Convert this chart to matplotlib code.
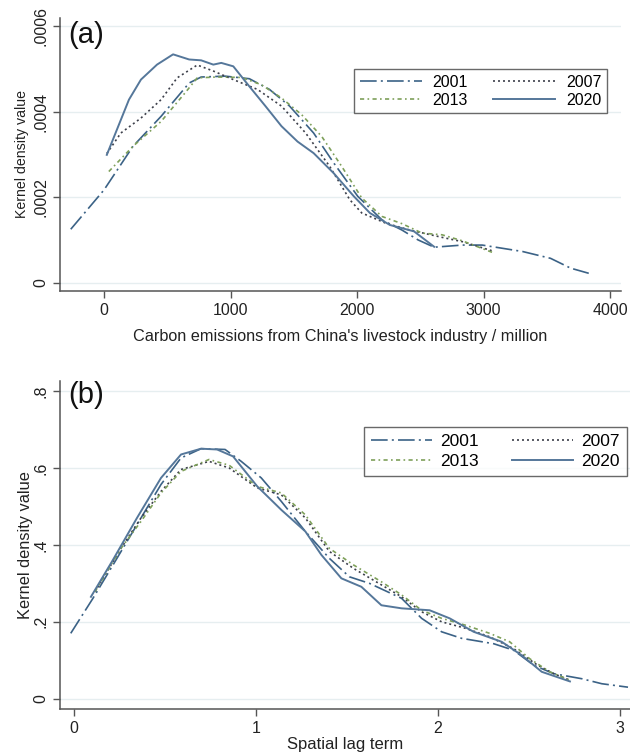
import matplotlib
matplotlib.use("Agg")
import matplotlib.pyplot as plt
from matplotlib.ticker import FuncFormatter

plt.rcParams['font.family'] = ['Liberation Sans', 'DejaVu Sans']

years = ["2001", "2007", "2013", "2020"]

# ---- Panel (a): carbon emissions ----
a2001_x = [-263, 0, 229, 451, 673, 768, 959, 1149, 1308, 1467, 1657, 1816, 2006, 2197, 2356, 2483, 2610, 2832, 2990, 3308, 3530, 3689, 3832]
a2001_y = [0.000125, 0.000217, 0.000319, 0.000389, 0.000467, 0.000481, 0.000483, 0.000477, 0.000452, 0.000413, 0.000350, 0.000280, 0.000202, 0.000147, 0.000123, 0.000100, 0.000083, 0.000088, 0.000088, 0.000073, 0.000057, 0.000034, 0.000022]
a2007_x = [22, 133, 292, 451, 578, 737, 864, 1022, 1213, 1403, 1594, 1784, 1943, 2038, 2229, 2419, 2673, 2832, 3086]
a2007_y = [0.000302, 0.000350, 0.000385, 0.000428, 0.000479, 0.000509, 0.000495, 0.000475, 0.000452, 0.000413, 0.000350, 0.000272, 0.000194, 0.000163, 0.000139, 0.000123, 0.000106, 0.000096, 0.000073]
a2013_x = [38, 229, 451, 641, 737, 895, 1086, 1244, 1403, 1562, 1721, 1879, 2038, 2197, 2356, 2514, 2673, 2832, 3086]
a2013_y = [0.000260, 0.000319, 0.000377, 0.000444, 0.000479, 0.000481, 0.000480, 0.000463, 0.000432, 0.000393, 0.000342, 0.000272, 0.000198, 0.000155, 0.000138, 0.000116, 0.000112, 0.000098, 0.000069]
a2020_x = [22, 102, 197, 292, 419, 546, 673, 768, 864, 927, 1022, 1149, 1276, 1403, 1530, 1657, 1816, 1975, 2102, 2260, 2451, 2610]
a2020_y = [0.000299, 0.000358, 0.000428, 0.000475, 0.000510, 0.000534, 0.000522, 0.000520, 0.000510, 0.000514, 0.000506, 0.000459, 0.000413, 0.000366, 0.000330, 0.000303, 0.000256, 0.000202, 0.000163, 0.000135, 0.000120, 0.000084]

# ---- Panel (b): spatial lag term ----
b2001_x = [-0.018, 0.104, 0.236, 0.368, 0.478, 0.588, 0.698, 0.830, 0.919, 1.029, 1.139, 1.271, 1.403, 1.513, 1.623, 1.80, 1.91, 2.02, 2.13, 2.306, 2.416, 2.526, 2.637, 2.79, 2.90, 3.044]
b2001_y = [0.170, 0.261, 0.365, 0.470, 0.557, 0.626, 0.650, 0.648, 0.617, 0.574, 0.513, 0.435, 0.365, 0.317, 0.300, 0.261, 0.209, 0.174, 0.157, 0.143, 0.126, 0.087, 0.065, 0.052, 0.039, 0.030]
b2007_x = [0.115, 0.258, 0.368, 0.478, 0.588, 0.742, 0.852, 1.007, 1.139, 1.271, 1.403, 1.535, 1.689, 1.80, 1.91, 2.02, 2.152, 2.284, 2.416, 2.548, 2.637, 2.725]
b2007_y = [0.278, 0.391, 0.470, 0.539, 0.596, 0.617, 0.600, 0.548, 0.530, 0.470, 0.383, 0.339, 0.296, 0.265, 0.226, 0.200, 0.183, 0.161, 0.130, 0.087, 0.065, 0.048]
b2013_x = [0.115, 0.258, 0.368, 0.478, 0.588, 0.742, 0.852, 1.007, 1.139, 1.271, 1.403, 1.535, 1.689, 1.80, 1.91, 2.02, 2.152, 2.284, 2.394, 2.504, 2.614, 2.725]
b2013_y = [0.278, 0.391, 0.461, 0.535, 0.591, 0.622, 0.607, 0.552, 0.535, 0.478, 0.391, 0.348, 0.304, 0.270, 0.230, 0.209, 0.191, 0.170, 0.148, 0.104, 0.070, 0.048]
b2020_x = [0.093, 0.214, 0.346, 0.478, 0.588, 0.698, 0.786, 0.874, 1.007, 1.139, 1.271, 1.359, 1.469, 1.579, 1.689, 1.80, 1.954, 2.064, 2.196, 2.35, 2.46, 2.57, 2.725]
b2020_y = [0.265, 0.361, 0.470, 0.574, 0.635, 0.650, 0.648, 0.630, 0.552, 0.491, 0.435, 0.374, 0.313, 0.291, 0.243, 0.235, 0.230, 0.209, 0.174, 0.148, 0.113, 0.070, 0.045]

a_xticks = [0, 1000, 2000, 3000, 4000]
a_yticks = [0, 0.0002, 0.0004, 0.0006]
b_xticks = [0, 1, 2, 3]
b_yticks = [0, 0.2, 0.4, 0.6, 0.8]

styles = {
    "2001": dict(color="#3b6286", linestyle=(0, (10, 2.5, 1.2, 2.5)), lw=1.2),
    "2007": dict(color="#3c3f4a", linestyle=(0, (1.2, 1.8)), lw=1.2),
    "2013": dict(color="#7ea05a", linestyle=(0, (2.5, 2, 1, 2)), lw=1.2),
    "2020": dict(color="#55779a", linestyle="-", lw=1.4),
}

W, H = 630, 756
fig = plt.figure(figsize=(W / 100, H / 100), dpi=100)

def fmt_stata(v, pos):
    if abs(v) < 1e-12:
        return "0"
    s = ("%.4f" % v).rstrip("0")
    if s.startswith("0."):
        s = s[1:]
    return s

def style_axes(ax, xticks, yticks):
    for sp in ("top", "right"):
        ax.spines[sp].set_visible(False)
    for sp in ("left", "bottom"):
        ax.spines[sp].set_color("#555555")
        ax.spines[sp].set_linewidth(1.1)
    ax.set_xticks(xticks)
    ax.set_yticks(yticks)
    ax.yaxis.set_major_formatter(FuncFormatter(fmt_stata))
    ax.tick_params(axis="both", direction="out", length=5, width=1.0, color="#555555",
                   labelsize=11.5, labelcolor="#222222")
    ax.tick_params(axis="y", labelrotation=90)
    for lab in ax.get_yticklabels():
        lab.set_verticalalignment("center")
    ax.grid(axis="y", color="#e6eef0", linewidth=1.0)
    ax.set_axisbelow(True)

def add_axes_px(l, t, r, b):
    return fig.add_axes([l / W, 1 - b / H, (r - l) / W, (b - t) / H])

# Panel (a)
ax1 = add_axes_px(60, 18, 621, 291)
series_a = {"2001": (a2001_x, a2001_y), "2007": (a2007_x, a2007_y),
            "2013": (a2013_x, a2013_y), "2020": (a2020_x, a2020_y)}
lines_a = {}
for y in years:
    xs, ys = series_a[y]
    lines_a[y], = ax1.plot(xs, ys, label=y, **styles[y])
ax1.set_xlim(-348, 4087)
ax1.set_ylim(-0.0000194, 0.000619)
style_axes(ax1, a_xticks, a_yticks)
ax1.set_ylabel("Kernel density value", fontsize=10.2, color="#222222", labelpad=3)
ax1.set_xlabel("Carbon emissions from China's livestock industry / million", fontsize=11.7,
               color="#222222", labelpad=8)
ax1.text(8 / 561, 1 - 17 / 273, "(a)", transform=ax1.transAxes, fontsize=21,
         va="center", ha="left", color="#111111")

order = ["2001", "2013", "2007", "2020"]
leg1 = ax1.legend([lines_a[k] for k in order], order, ncol=2,
                  loc="upper left", bbox_to_anchor=(354 / W, 1 - 69 / H),
                  bbox_transform=fig.transFigure, fontsize=11.5, frameon=True,
                  fancybox=False, edgecolor="#444444", handlelength=3.9,
                  handletextpad=0.65, columnspacing=1.6, labelspacing=0.2,
                  borderpad=0.35, borderaxespad=0)
leg1.get_frame().set_linewidth(1.0)

# Panel (b)
ax2 = add_axes_px(60, 381, 630, 709)
series_b = {"2001": (b2001_x, b2001_y), "2007": (b2007_x, b2007_y),
            "2013": (b2013_x, b2013_y), "2020": (b2020_x, b2020_y)}
lines_b = {}
for y in years:
    xs, ys = series_b[y]
    lines_b[y], = ax2.plot(xs, ys, label=y, **styles[y])
ax2.set_xlim(-0.077, 3.055)
ax2.set_ylim(-0.0267, 0.826)
style_axes(ax2, b_xticks, b_yticks)
ax2.set_ylabel("Kernel density value", fontsize=11.8, color="#222222", labelpad=0)
ax2.set_xlabel("Spatial lag term", fontsize=12, color="#222222", labelpad=1)
ax2.text(8 / 570, 1 - 14 / 328, "(b)", transform=ax2.transAxes, fontsize=21,
         va="center", ha="left", color="#111111")

leg2 = ax2.legend([lines_b[k] for k in order], order, ncol=2,
                  loc="upper left", bbox_to_anchor=(364 / W, 1 - 427 / H),
                  bbox_transform=fig.transFigure, fontsize=12.5, frameon=True,
                  fancybox=False, edgecolor="#444444", handlelength=3.5,
                  handletextpad=0.5, columnspacing=1.9, labelspacing=0.25,
                  borderpad=0.4, borderaxespad=0)
leg2.get_frame().set_linewidth(1.0)

fig.savefig("out.png", dpi=100, facecolor="white")
